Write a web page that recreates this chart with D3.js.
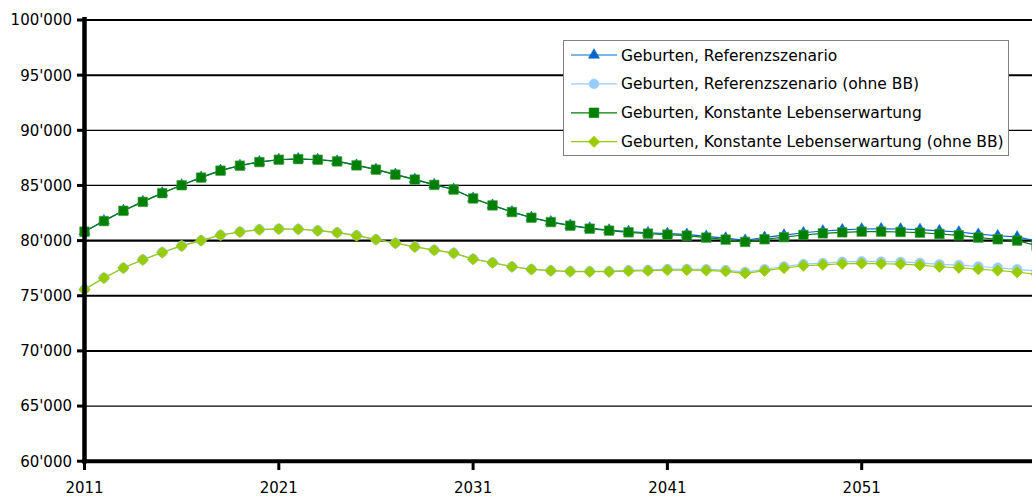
<!DOCTYPE html>
<html><head><meta charset="utf-8">
<script src="https://cdn.jsdelivr.net/npm/d3@7"></script>
<style>
html,body{margin:0;padding:0;background:#fff;}
svg{display:block;font-family:"DejaVu Sans",Verdana,sans-serif;}
</style></head>
<body><svg id="c" width="1032" height="499"></svg>
<script>
const years = [2011,2012,2013,2014,2015,2016,2017,2018,2019,2020,2021,2022,2023,2024,2025,2026,2027,2028,2029,2030,2031,2032,2033,2034,2035,2036,2037,2038,2039,2040,2041,2042,2043,2044,2045,2046,2047,2048,2049,2050,2051,2052,2053,2054,2055,2056,2057,2058,2059,2060];
const referenz = [80830,81790,82720,83530,84320,85040,85730,86360,86810,87140,87350,87410,87350,87200,86840,86450,86000,85550,85070,84650,83840,83210,82610,82090,81700,81390,81130,80960,80820,80710,80640,80560,80390,80230,80030,80290,80490,80710,80870,80980,81050,81060,81050,81000,80890,80780,80580,80440,80330,79950];
const referenzOhneBB = [75580,76630,77530,78280,78940,79540,80020,80510,80800,81010,81070,81050,80920,80740,80470,80110,79780,79450,79150,78880,78340,78010,77650,77410,77290,77220,77220,77230,77300,77340,77410,77420,77400,77320,77150,77400,77650,77870,77960,78070,78110,78090,78070,77980,77850,77770,77650,77540,77400,77230];
const konstante = [80810,81770,82700,83510,84300,85020,85710,86340,86790,87120,87330,87390,87330,87180,86820,86430,85980,85530,85050,84630,83820,83190,82590,82070,81680,81350,81080,80900,80750,80630,80540,80450,80270,80090,79880,80120,80310,80510,80660,80750,80810,80810,80780,80720,80600,80480,80270,80120,80000,79550];
const konstanteOhneBB = [75560,76610,77510,78260,78920,79520,80000,80490,80780,80990,81050,81030,80900,80720,80450,80090,79760,79430,79130,78860,78320,77990,77630,77390,77270,77190,77180,77180,77240,77270,77330,77330,77300,77210,77030,77270,77510,77720,77800,77900,77930,77900,77870,77770,77630,77540,77410,77290,77140,76950];
const seriesNames = ["Geburten, Referenzszenario","Geburten, Referenzszenario (ohne BB)","Geburten, Konstante Lebenserwartung","Geburten, Konstante Lebenserwartung (ohne BB)"];
const yTicks = [60000,65000,70000,75000,80000,85000,90000,95000,100000];
const yTickLabels = ["60'000","65'000","70'000","75'000","80'000","85'000","90'000","95'000","100'000"];
const xTicks = [2011,2021,2031,2041,2051];

const svg = d3.select("#c");
const x = d3.scaleLinear().domain([2011,2051]).range([84.5,861.7]);
const y = d3.scaleLinear().domain([60000,100000]).range([461.2,20]);

// gridlines
const thick = {100000:2,95000:2,90000:1.2,85000:1.2,80000:2.2,75000:2,70000:2,65000:1.2};
svg.append("g").selectAll("line").data(yTicks.filter(t=>t>60000)).join("line")
  .attr("x1",84).attr("x2",1040)
  .attr("y1",d=>y(d)).attr("y2",d=>y(d))
  .attr("stroke","#000").attr("stroke-width",d=>thick[d]);

// series
const series = [
  {vals:referenz, color:"#0066CC", fill:"#0066CC", shape:"tri"},
  {vals:referenzOhneBB, color:"#99CCFF", fill:"#99CCFF", shape:"circ"},
  {vals:konstante, color:"#008000", fill:"#008000", shape:"sq"},
  {vals:konstanteOhneBB, color:"#99CC00", fill:"#99CC00", shape:"dia"}
];
const squareDiamond = {draw(ctx,size){const r=Math.sqrt(size/2);ctx.moveTo(0,-r);ctx.lineTo(r,0);ctx.lineTo(0,r);ctx.lineTo(-r,0);ctx.closePath();}};
const symGen = {
  tri: d3.symbol().type(d3.symbolTriangle).size(52),
  circ: d3.symbol().type(d3.symbolCircle).size(75),
  sq: d3.symbol().type(d3.symbolSquare).size(92),
  dia: d3.symbol().type(squareDiamond).size(66)
};
const line = d3.line().x((d,i)=>x(years[i])).y(d=>y(d));
series.forEach(s=>{
  const g = svg.append("g");
  g.append("path").datum(s.vals).attr("d",line).attr("fill","none")
    .attr("stroke",s.color).attr("stroke-width",1.2);
  g.selectAll("path.m").data(s.vals).join("path").attr("class","m")
    .attr("d",symGen[s.shape])
    .attr("transform",(d,i)=>`translate(${x(years[i])},${y(d)})`)
    .attr("fill",s.fill).attr("stroke",s.shape==="sq"?"#4aa04a":s.fill).attr("stroke-width",0.6);
});

// axes
const yAxis = svg.append("g");
yAxis.append("line").attr("x1",84.5).attr("x2",84.5).attr("y1",17).attr("y2",463.5)
  .attr("stroke","#000").attr("stroke-width",4.5);
yAxis.selectAll("line.t").data(yTicks).join("line").attr("class","t")
  .attr("x1",77).attr("x2",84).attr("y1",d=>y(d)).attr("y2",d=>y(d))
  .attr("stroke","#000").attr("stroke-width",3);
yAxis.selectAll("text").data(yTicks).join("text")
  .attr("x",72).attr("y",d=>y(d)).attr("dy","0.36em").attr("text-anchor","end")
  .attr("font-size",15).attr("fill","#000").text((d,i)=>yTickLabels[i]);

const xAxis = svg.append("g");
xAxis.append("line").attr("x1",82).attr("x2",1040).attr("y1",461.3).attr("y2",461.3)
  .attr("stroke","#000").attr("stroke-width",4);
xAxis.selectAll("line.t").data(xTicks).join("line").attr("class","t")
  .attr("x1",d=>x(d)).attr("x2",d=>x(d)).attr("y1",461).attr("y2",470)
  .attr("stroke","#000").attr("stroke-width",3);
xAxis.selectAll("text").data(xTicks).join("text")
  .attr("x",d=>x(d)).attr("y",493).attr("text-anchor","middle")
  .attr("font-size",15).attr("fill","#000").text(d=>d);

// legend
const lg = svg.append("g");
lg.append("rect").attr("x",563.5).attr("y",40.5).attr("width",445).attr("height",115)
  .attr("fill","#fff").attr("stroke","#808080").attr("stroke-width",1);
series.forEach((s,i)=>{
  const cy = 55 + i*28.9;
  lg.append("line").attr("x1",571).attr("x2",617).attr("y1",cy).attr("y2",cy)
    .attr("stroke",s.color).attr("stroke-width",1.2);
  lg.append("path").attr("d",symGen[s.shape]).attr("transform",`translate(594,${cy})`)
    .attr("fill",s.fill).attr("stroke",s.fill).attr("stroke-width",0.6);
  lg.append("text").attr("x",621).attr("y",cy).attr("dy","0.36em")
    .attr("font-size",15.5).attr("fill","#000").text(seriesNames[i]);
});
</script></body></html>
